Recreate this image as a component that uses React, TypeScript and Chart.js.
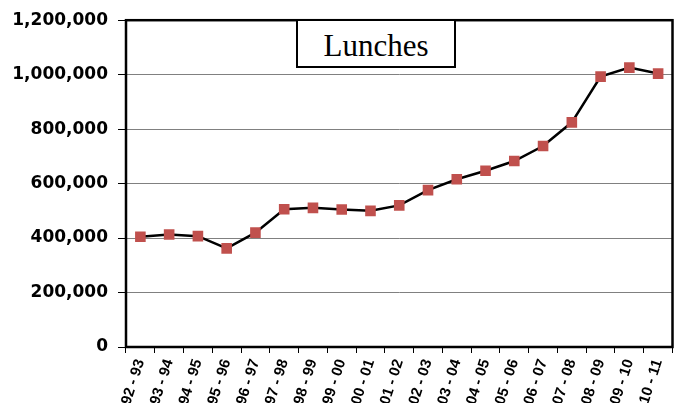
import React, { useEffect, useRef } from "react";
import { Chart, registerables } from "chart.js";

Chart.register(...registerables);

const categories = [
  "92 - 93", "93 - 94", "94 - 95", "95 - 96", "96 - 97", "97 - 98", "98 - 99",
  "99 - 00", "00 - 01", "01 - 02", "02 - 03", "03 - 04", "04 - 05", "05 - 06",
  "06 - 07", "07 - 08", "08 - 09", "09 - 10", "10 - 11",
];
const lunches = [
  405000, 413000, 407000, 362000, 420000, 506000, 511000, 505000, 500000,
  520000, 576000, 616000, 647000, 683000, 738000, 825000, 993000, 1026000,
  1004000,
];
const yMin = 0;
const yMax = 1200000;
const yStep = 200000;
const titleText = "Lunches";

const frame = {
  id: "frame",
  afterDraw(chart: any) {
    const { ctx, chartArea } = chart;
    ctx.save();
    ctx.strokeStyle = "#000";
    ctx.lineWidth = 2.5;
    ctx.strokeRect(
      chartArea.left,
      chartArea.top,
      chartArea.right - chartArea.left,
      chartArea.bottom - chartArea.top
    );
    ctx.restore();
  },
};

export default function App() {
  const ref = useRef<HTMLCanvasElement>(null);
  useEffect(() => {
    document.body.style.margin = "0";
    const chart = new Chart(ref.current!, {
      type: "line",
      data: {
        labels: categories,
        datasets: [
          {
            label: titleText,
            data: lunches,
            borderColor: "#000",
            borderWidth: 2.5,
            pointStyle: "rect",
            pointRadius: 7.5,
            pointBackgroundColor: "#C0504D",
            pointBorderColor: "#C0504D",
            pointBorderWidth: 0,
            tension: 0,
          },
        ],
      },
      options: {
        animation: false,
        responsive: false,
        layout: { padding: { top: 15, right: 5, left: 0, bottom: 0 } },
        plugins: { legend: { display: false }, tooltip: { enabled: false } },
        scales: {
          x: {
            offset: true,
            border: { display: false },
            grid: {
              offset: true,
              drawOnChartArea: false,
              drawTicks: true,
              tickLength: 6,
              tickColor: "#000",
            },
            ticks: {
              autoSkip: false,
              minRotation: 72,
              maxRotation: 72,
              padding: 4,
              color: "#000",
              font: { family: "Liberation Sans", weight: "bold", size: 15 },
            },
            afterFit: (s: any) => {
              s.height = 56;
            },
          },
          y: {
            min: yMin,
            max: yMax,
            border: { display: false },
            grid: {
              color: "#808080",
              lineWidth: 1,
              tickColor: "#000",
              tickLength: 8,
            },
            ticks: {
              stepSize: yStep,
              padding: 10,
              color: "#000",
              font: { family: "DejaVu Sans", weight: "bold", size: 17 },
              callback: (v: any) => Number(v).toLocaleString("en-US"),
            },
            afterFit: (s: any) => {
              s.width = 126;
            },
          },
        },
      },
      plugins: [frame],
    });
    return () => chart.destroy();
  }, []);
  return (
    <div style={{ position: "fixed", left: 0, top: 0, width: 680, height: 403 }}>
      <canvas ref={ref} width={680} height={403} style={{ display: "block" }} />
      <div
        style={{
          position: "absolute",
          left: 296,
          top: 19,
          width: 156,
          height: 45,
          border: "2px solid #000",
          background: "#fff",
          fontFamily: "'Liberation Serif', 'Times New Roman', serif",
          fontSize: 31,
          lineHeight: "50px",
          textAlign: "center",
          color: "#000",
        }}
      >
        {titleText}
      </div>
    </div>
  );
}
